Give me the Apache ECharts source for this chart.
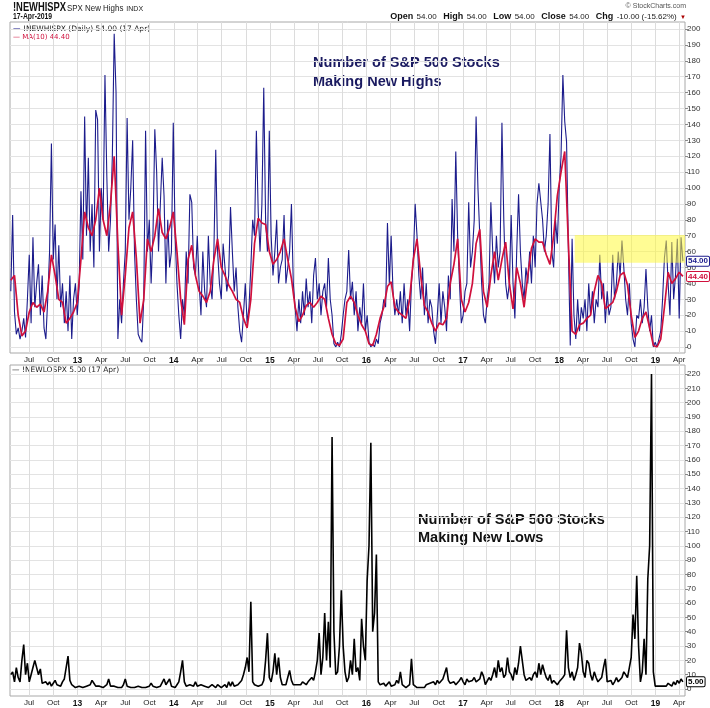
<!DOCTYPE html>
<html>
<head>
<meta charset="utf-8">
<script src="https://cdn.jsdelivr.net/npm/echarts@6/dist/echarts.min.js"></script>
<style>
html,body{margin:0;padding:0;background:#fff;}
#chart{width:710px;height:708px;}
</style>
</head>
<body>
<div id="chart"></div>
<script>
// ---------------- DATA ----------------
const firstWeek = '2012-04-23';           // weekly observations start
const axisStart = '2012-04-20';
const axisEnd = '2019-04-23';

// Number of S&P 500 stocks making new highs (weekly readings of the daily line)
const highs = [
  35, 83, 22, 8, 12, 5, 10, 18, 6, 30,
  58, 15, 69, 25, 40, 52, 20, 45, 12, 5,
  30, 60, 128, 55, 77, 30, 64, 25, 40, 15,
  35, 10, 45, 5, 30, 40, 20, 38, 98, 55,
  145, 70, 119, 60, 90, 50, 149, 143, 60, 100,
  80, 171, 108, 60, 80, 120, 197, 160, 5, 30,
  15, 40, 60, 144, 80, 100, 130, 60, 30, 8,
  5, 3, 30, 136, 60, 80, 40, 70, 137, 110,
  60, 90, 119, 95, 40, 80, 50, 60, 141, 70,
  40, 20, 5, 30, 20, 60, 40, 96, 91, 50,
  45, 70, 40, 20, 60, 35, 25, 70, 40, 30,
  60, 124, 60, 40, 30, 65, 50, 35, 45, 88,
  60, 35, 50, 25, 10, 3, 20, 40, 15, 25,
  50, 80, 70, 136, 85, 60, 90, 163, 80, 60,
  136, 70, 45, 60, 80, 40, 50, 55, 83, 40,
  50, 60, 90, 40, 25, 10, 30, 15, 35, 20,
  43, 25, 35, 15, 45, 56, 30, 40, 20, 35,
  40, 25, 56, 30, 20, 2, 0, 3, 0, 8,
  20, 30, 35, 61, 30, 41, 20, 35, 10, 25,
  15, 40, 10, 20, 3, 0, 2, 0, 5, 2,
  15, 20, 30, 25, 78, 40, 70, 35, 20, 30,
  20, 35, 15, 40, 20, 30, 10, 40, 55, 90,
  70, 45, 30, 50, 20, 40, 15, 30, 25, 10,
  2, 20, 40, 15, 35, 25, 10, 45, 30, 93,
  60, 123, 70, 40, 15, 20, 35, 40, 91, 50,
  60, 80, 145, 100, 70, 40, 20, 15, 30, 40,
  91, 60, 40, 70, 50, 60, 141, 80, 40, 30,
  40, 83, 40, 18, 60, 96, 60, 40, 30, 50,
  40, 60, 40, 70, 50, 90, 103, 102, 80, 60,
  70, 90, 134, 60, 50, 80, 65, 100, 120, 171,
  142, 129, 60, 1, 68, 20, 5, 30, 10, 25,
  18, 30, 10, 40, 20, 35, 15, 30, 25, 58,
  30, 40, 15, 35, 20, 25, 58, 30, 40, 60,
  45, 67, 50, 30, 20, 40, 15, 5, 0, 20,
  18, 30, 15, 25, 49, 25, 10, 20, 0, 3,
  0, 0, 10, 30, 56, 67, 40, 20, 66, 30,
  45, 68, 18, 69, 54
];

// MA(10) of the new-highs line, read every two weeks
const ma10 = [
  42, 45, 20, 7, 10, 22, 28, 25, 27, 22,
  35, 58, 45, 30, 28, 15, 18, 22, 28, 55,
  85, 75, 70, 80, 100, 80, 70, 90, 120, 65,
  20, 45, 75, 85, 56, 15, 30, 68, 60, 70,
  87, 72, 68, 75, 85, 60, 30, 14, 55, 64,
  45, 35, 32, 28, 35, 55, 68, 50, 45, 39,
  35, 30, 28, 18, 12, 30, 65, 81, 78, 77,
  60, 52, 55, 60, 68, 55, 43, 25, 16, 20,
  26, 28, 25, 28, 32, 30, 18, 8, 2, 1,
  5, 28, 32, 28, 20, 14, 10, 2, 1, 8,
  18, 25, 38, 41, 25, 22, 20, 18, 30, 55,
  68, 45, 26, 22, 15, 10, 15, 14, 18, 40,
  52, 68, 30, 22, 28, 40, 65, 74, 35, 25,
  45, 60, 42, 55, 66, 40, 24, 50, 40, 25,
  45, 62, 68, 66, 66, 58, 52, 70, 95, 110,
  123, 65, 10, 8, 14, 15, 18, 20, 35, 45,
  40, 24, 26, 28, 35, 45, 47, 39, 20, 6,
  10, 18, 22, 12, 1, 0, 5, 25, 47, 40,
  43, 47, 44.4
];

// Number of S&P 500 stocks making new lows (weekly readings)
const lows = [
  10, 12, 5, 15, 8, 5, 20, 31, 10, 18,
  5, 10, 15, 20, 19, 10, 14, 4, 3, 5,
  3, 5, 2, 4, 6, 3, 4, 2, 5, 7,
  8, 23, 6, 3, 2, 1, 1, 2, 1, 1,
  1, 2, 1, 3, 6, 4, 2, 1, 2, 1,
  1, 2, 3, 7, 2, 1, 2, 1, 1, 2,
  1, 3, 7, 2, 1, 1, 2, 1, 1, 2,
  1, 1, 2, 1, 1, 2, 4, 2, 1, 1,
  1, 2, 1, 7, 3, 2, 7, 2, 1, 1,
  3, 5, 12, 20, 5, 2, 1, 3, 4, 2,
  5, 2, 1, 3, 4, 2, 3, 1, 2, 3,
  2, 1, 3, 2, 1, 2, 3, 1, 5, 2,
  5, 2, 1, 3, 4, 6, 10, 15, 22, 12,
  61, 5, 3, 4, 2, 3, 3, 6, 20, 39,
  8, 5, 12, 25, 10, 22, 8, 3, 2, 3,
  8, 13, 6, 3, 2, 3, 2, 3, 5, 4,
  3, 5, 4, 8, 6, 12, 20, 39, 10, 22,
  53, 20, 47, 15, 176, 40, 10, 12, 30, 69,
  30, 12, 5, 8, 20, 10, 35, 12, 15, 6,
  49, 30, 20, 76, 100, 172, 40, 53, 94, 5,
  3, 2, 4, 2, 3, 5, 2, 1, 3, 6,
  4, 12, 3, 2, 1, 2, 3, 21, 3, 2,
  1, 2, 1, 2, 1, 3, 2, 4, 3, 5,
  3, 6, 4, 5, 7, 8, 15, 6, 4, 3,
  5, 3, 4, 6, 8, 5, 3, 7, 5, 4,
  6, 8, 5, 4, 7, 12, 9, 3, 4, 8,
  6, 10, 15, 8, 20, 12, 15, 8, 10, 22,
  12, 10, 6, 15, 10, 18, 30, 20, 10, 6,
  5, 8, 6, 10, 12, 8, 18, 10, 17, 12,
  8, 6, 10, 4, 6, 5, 3, 5, 4, 8,
  10, 41, 15, 8, 12, 6, 10, 15, 32, 25,
  12, 8, 20, 18, 10, 6, 12, 8, 5, 6,
  8, 15, 21, 5, 4, 6, 3, 5, 8, 5,
  6, 8, 12, 10, 8, 15, 22, 52, 35, 79,
  30, 5, 12, 35, 10, 77, 100, 220, 12, 2,
  3, 2, 1, 2, 3, 2, 4, 3, 2, 5,
  3, 6, 4, 7, 5
];

// x-axis ticks (quarter starts)
const tickDates = [
  '2012-07-01','2012-10-01',
  '2013-01-01','2013-04-01','2013-07-01','2013-10-01',
  '2014-01-01','2014-04-01','2014-07-01','2014-10-01',
  '2015-01-01','2015-04-01','2015-07-01','2015-10-01',
  '2016-01-01','2016-04-01','2016-07-01','2016-10-01',
  '2017-01-01','2017-04-01','2017-07-01','2017-10-01',
  '2018-01-01','2018-04-01','2018-07-01','2018-10-01',
  '2019-01-01','2019-04-01'
];
const tickLabels = [
  'Jul','Oct',
  '13','Apr','Jul','Oct',
  '14','Apr','Jul','Oct',
  '15','Apr','Jul','Oct',
  '16','Apr','Jul','Oct',
  '17','Apr','Jul','Oct',
  '18','Apr','Jul','Oct',
  '19','Apr'
];

// highlighted zone on the new-highs panel
const zoneStart = '2018-03-01';
const zoneLow = 53;
const zoneHigh = 70.5;

// last values
const lastHigh = 54.00;
const lastMA = 44.40;
const lastLow = 5.00;

// ---------------- BUILD ----------------
const DAY = 86400000;
const ts = s => Date.parse(s + 'T00:00:00Z');
const t0 = ts(firstWeek);
const xMin = ts(axisStart), xMax = ts(axisEnd);
const highsData = highs.map((v, i) => [t0 + i * 7 * DAY, v]);
const maData = ma10.map((v, i) => [t0 + i * 14 * DAY, v]);
const lowsData = lows.map((v, i) => [t0 + i * 7 * DAY, v]);
const tickTs = tickDates.map(ts);

const NAVY = '#1c1c8c';
const RED = '#d0103c';
const FONT = '"Liberation Sans", Arial, sans-serif';

function labelFor(v) {
  let k = -1;
  for (let i = 0; i < tickTs.length; i++) if (Math.abs(tickTs[i] - v) < DAY) { k = i; break; }
  if (k < 0) return '';
  const s = tickLabels[k];
  return /^\d+$/.test(s) ? '{y|' + s + '}' : '{m|' + s + '}';
}

function frameX(gi) {
  return {
    type: 'value', gridIndex: gi, min: xMin, max: xMax,
    axisLine: { show: false },
    axisTick: { show: false, customValues: tickTs },
    axisLabel: {
      show: true, customValues: tickTs, margin: 3, formatter: labelFor,
      hideOverlap: false,
      rich: {
        y: { fontSize: 8.5, fontWeight: 'bold', color: '#111', fontFamily: FONT },
        m: { fontSize: 8, color: '#222', fontFamily: FONT }
      }
    },
    splitLine: { show: true, lineStyle: { color: '#dcdcdc', width: 1 } }
  };
}
function dataX(gi) {
  return { type: 'value', gridIndex: gi, min: xMin, max: xMax, show: false,
    axisLabel: { show: false }, splitLine: { show: false }, axisTick: { show: false } };
}
function hiddenY(gi) {
  return { type: 'value', gridIndex: gi, show: false, splitLine: { show: false } };
}
function dataY(gi, max) {
  return {
    type: 'value', gridIndex: gi, position: 'right', min: 0, max: max, interval: 10,
    axisLine: { show: false },
    axisTick: { show: true, length: 3, lineStyle: { color: '#888' } },
    axisLabel: { margin: 2, fontSize: 8, color: '#333', fontFamily: FONT },
    splitLine: { show: true, lineStyle: { color: '#e3e3e3', width: 1 } }
  };
}
function valueBox(val, color, fmt) {
  return {
    silent: true, symbol: ['none', 'none'], animation: false, z: 20,
    lineStyle: { color: 'rgba(0,0,0,0)', width: 1, type: 'solid' },
    label: {
      show: true, position: 'end', distance: 2, formatter: fmt, color: color,
      backgroundColor: '#fff', borderColor: color, borderWidth: 1, borderRadius: 1,
      padding: [1, 1, 0, 1], fontSize: 8, fontWeight: 'bold', fontFamily: FONT
    },
    emphasis: { disabled: true },
    data: [{ yAxis: val }]
  };
}

const option = {
  animation: false,
  backgroundColor: '#fff',
  grid: [
    { left: 10, right: 25, top: 22, height: 331, show: true, borderColor: '#a8a8a8', borderWidth: 1 },
    { left: 10, right: 25, top: 29, height: 318 },
    { left: 10, right: 25, top: 365, height: 331, show: true, borderColor: '#a8a8a8', borderWidth: 1 },
    { left: 10, right: 25, top: 374, height: 315 }
  ],
  xAxis: [frameX(0), dataX(1), frameX(2), dataX(3)],
  yAxis: [hiddenY(0), dataY(1, 200), hiddenY(2), dataY(3, 220)],
  series: [
    {
      type: 'line', name: '!NEWHISPX', xAxisIndex: 1, yAxisIndex: 1, data: highsData,
      symbol: 'none', z: 2, lineStyle: { color: NAVY, width: 1.1 },
      markLine: valueBox(lastHigh, NAVY, lastHigh.toFixed(2)),
      markArea: {
        silent: true, z: 10,
        itemStyle: { color: 'rgba(255,250,60,0.55)' },
        data: [[{ xAxis: ts(zoneStart), yAxis: zoneLow }, { xAxis: xMax, yAxis: zoneHigh }]]
      }
    },
    {
      type: 'line', name: 'MA(10)', xAxisIndex: 1, yAxisIndex: 1, data: maData,
      symbol: 'none', z: 3, lineStyle: { color: RED, width: 1.7 },
      markLine: valueBox(lastMA, RED, lastMA.toFixed(2))
    },
    {
      type: 'line', name: '!NEWLOSPX', xAxisIndex: 3, yAxisIndex: 3, data: lowsData,
      symbol: 'none', z: 2, lineStyle: { color: '#000', width: 1.6 },
      markLine: valueBox(lastLow, '#000', lastLow.toFixed(2))
    }
  ],
  graphic: [
    { type: 'text', x: 13, y: 8, scaleX: 0.78, style: { text: '!NEWHISPX', font: 'bold 12px ' + FONT, fill: '#111', verticalAlign: 'middle' } },
    { type: 'text', x: 67, y: 9, scaleX: 0.88, style: { text: '{a|SPX New Highs} {b|INDX}', verticalAlign: 'middle',
        rich: { a: { fontSize: 9, fontFamily: FONT, fill: '#222' }, b: { fontSize: 8, fontFamily: FONT, fill: '#222' } } } },
    { type: 'text', x: 13, y: 17, scaleX: 0.76, style: { text: '17-Apr-2019', font: 'bold 9px ' + FONT, fill: '#111', verticalAlign: 'middle' } },
    { type: 'text', x: 686, y: 6, style: { text: '© StockCharts.com', font: '7px ' + FONT, fill: '#555', align: 'right', verticalAlign: 'middle' } },
    { type: 'text', x: 686, y: 17, style: {
        text: '{l|Open} {v|54.00}  {l|High} {v|54.00}  {l|Low} {v|54.00}  {l|Close} {v|54.00}  {l|Chg} {v|-10.00 (-15.62%)} {r|▼}',
        align: 'right', verticalAlign: 'middle',
        rich: {
          l: { fontSize: 9, fontWeight: 'bold', fontFamily: FONT, fill: '#111' },
          v: { fontSize: 8, fontFamily: FONT, fill: '#222' },
          r: { fontSize: 6, fontFamily: FONT, fill: '#a00' }
        } } },
    { type: 'text', x: 13, y: 29, style: { text: '{d|—} !NEWHISPX (Daily) 54.00 (17 Apr)', font: '7.5px "DejaVu Sans"', fill: '#222', verticalAlign: 'middle',
        rich: { d: { fill: NAVY, fontSize: 7.5, fontWeight: 'bold', fontFamily: 'DejaVu Sans' } } } },
    { type: 'text', x: 13, y: 37, style: { text: '— MA(10) 44.40', font: '7px "DejaVu Sans"', fill: RED, verticalAlign: 'middle' } },
    { type: 'text', x: 12, y: 370, style: { text: '— !NEWLOSPX 5.00 (17 Apr)', font: '7.5px "DejaVu Sans"', fill: '#222', verticalAlign: 'middle' } },
    { type: 'text', x: 313, y: 63, scaleX: 0.97, style: { text: 'Number of S&P 500 Stocks', font: 'bold 15px ' + FONT, fill: '#1a1a60', lineWidth: 0, verticalAlign: 'middle' } },
    { type: 'text', x: 313, y: 82, scaleX: 0.97, style: { text: 'Making New Highs', font: 'bold 15px ' + FONT, fill: '#1a1a60', lineWidth: 0, verticalAlign: 'middle' } },
    { type: 'text', x: 418, y: 520, scaleX: 0.97, style: { text: 'Number of S&P 500 Stocks', font: 'bold 15px ' + FONT, fill: '#111', lineWidth: 0, verticalAlign: 'middle' } },
    { type: 'text', x: 418, y: 538, scaleX: 0.97, style: { text: 'Making New Lows', font: 'bold 15px ' + FONT, fill: '#111', lineWidth: 0, verticalAlign: 'middle' } }
  ]
};

const chart = echarts.init(document.getElementById('chart'), null, { renderer: 'canvas' });
chart.setOption(option);
</script>
</body>
</html>
